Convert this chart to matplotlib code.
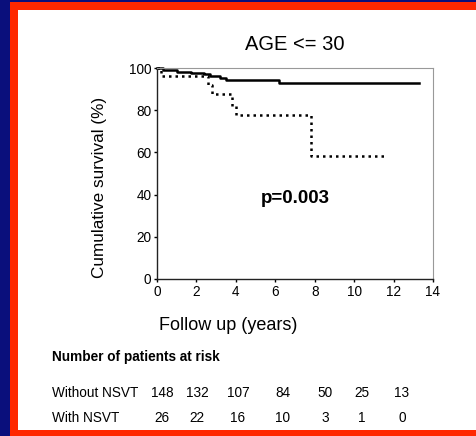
import matplotlib.pyplot as plt
from matplotlib.patches import Rectangle

plt.rcParams['font.family'] = ['Liberation Sans', 'DejaVu Sans']

# Kaplan-Meier steps
years_without = [0, 0.3, 1.0, 1.7, 2.4, 2.7, 3.2, 3.5, 6.2, 13.3]
surv_without = [100, 99.0, 98.2, 97.6, 97.0, 96.4, 95.4, 94.3, 93.0, 93.0]
years_with = [0, 0.2, 2.6, 2.8, 3.8, 4.0, 7.8, 11.6]
surv_with = [100, 96.4, 92.0, 87.5, 82.0, 77.5, 58.3, 58.3]

title = "AGE <= 30"
p_text = "p=0.003"
groups = ["Without NSVT", "With NSVT"]
at_risk_without = [148, 132, 107, 84, 50, 25, 13]
at_risk_with = [26, 22, 16, 10, 3, 1, 0]
risk_cols_px = [162, 197, 238, 283, 325, 362, 402]

W, H = 477, 436
fig = plt.figure(figsize=(W / 100, H / 100), dpi=100)
fig.patch.set_facecolor('#0a0f7c')
fig.patches.append(Rectangle((10 / W, 0), 1, 1 - 2 / H, transform=fig.transFigure,
                             facecolor='#ff2800', edgecolor='none', zorder=-2))
fig.patches.append(Rectangle((18 / W, 6 / H), 1, 1 - 16 / H, transform=fig.transFigure,
                             facecolor='white', edgecolor='none', zorder=-1))

ax = fig.add_axes([157 / W, 1 - 279 / H, 276 / W, 211 / H])
ax.set_zorder(3)
ax.patch.set_alpha(0)
ax.step(years_without, surv_without, where='post', color='black', lw=1.8, clip_on=False)
ax.step(years_with, surv_with, where='post', color='black', lw=1.8, ls=(0, (1, 1.6)),
        clip_on=False)
ax.set_xlim(0, 14)
ax.set_ylim(0, 100)
ax.set_xticks(range(0, 15, 2))
ax.set_yticks(range(0, 101, 20))
ax.tick_params(labelsize=9.8, length=2, width=1, pad=2)
for s in ['left', 'bottom']:
    ax.spines[s].set_color('#222222')
    ax.spines[s].set_linewidth(1.0)
for s in ['top', 'right']:
    ax.spines[s].set_color('#999999')
    ax.spines[s].set_linewidth(0.8)
ax.set_ylabel("Cumulative survival (%)", fontsize=12.3)
ax.yaxis.set_label_coords(-0.181, 0.436)
ax.text(7, 38, p_text, fontsize=13.5, fontweight='bold', ha='center', va='center')

fig.text(295 / W, 1 - 45 / H, title, fontsize=14.5, ha='center', va='center')
fig.text(228 / W, 1 - 325 / H, "Follow up (years)", fontsize=13, ha='center', va='center')
fig.text(52 / W, 1 - 357 / H, "Number of patients at risk", fontsize=9.8,
         fontweight='bold', ha='left', va='center')
for row_y, label, counts in [(393, groups[0], at_risk_without), (418, groups[1], at_risk_with)]:
    fig.text(52 / W, 1 - row_y / H, label, fontsize=9.8, ha='left', va='center')
    for cx, n in zip(risk_cols_px, counts):
        fig.text(cx / W, 1 - row_y / H, str(n), fontsize=9.8, ha='center', va='center')

fig.savefig('out.png', dpi=100, facecolor=fig.get_facecolor())
